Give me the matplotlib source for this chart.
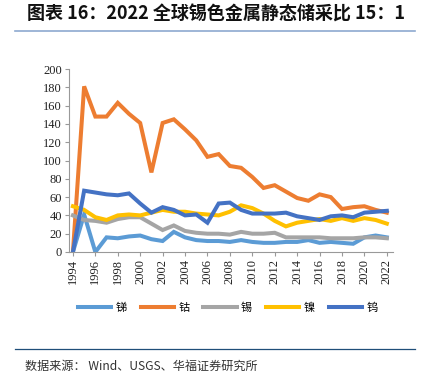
import matplotlib
matplotlib.use('Agg')
import matplotlib.pyplot as plt
from matplotlib.lines import Line2D
from matplotlib import font_manager

plt.rcParams['font.family'] = ['Noto Sans CJK SC', 'DejaVu Sans']
plt.rcParams['font.serif'] = ['Liberation Serif', 'Times New Roman', 'DejaVu Serif']

# --- 数据 ---
years = list(range(1994, 2023))
antimony = [0, 41, 0, 16, 15, 17, 18, 14, 12, 22, 16, 13, 12, 12, 11, 13, 11, 10, 10, 11,
            11, 13, 10, 11, 10, 9, 16, 18, 16]
cobalt = [0, 181, 148, 148, 163, 151, 141, 87, 141, 145, 134, 122, 104, 107, 94, 92, 82,
          70, 73, 66, 59, 56, 63, 60, 47, 49, 50, 46, 43]
tin = [40, 35, 34, 32, 36, 38, 38, 31, 24, 29, 23, 21, 20, 20, 19, 22, 20, 20, 21, 16,
       16, 16, 16, 15, 15, 15, 16, 16, 15]
nickel = [50, 46, 38, 35, 40, 41, 40, 43, 46, 44, 44, 42, 41, 40, 44, 51, 48, 42, 34, 28,
          32, 34, 36, 34, 37, 34, 37, 35, 31]
tungsten = [0, 67, 65, 63, 62, 64, 53, 43, 49, 46, 40, 41, 32, 53, 54, 46, 42, 42, 42, 43,
            39, 37, 35, 39, 40, 38, 43, 44, 45]

series_names = ['锑', '钴', '锡', '镍', '钨']
series_values = [antimony, cobalt, tin, nickel, tungsten]
colors = ['#5B9BD5', '#ED7D31', '#A5A5A5', '#FFC000', '#4472C4']
year_ticks = list(range(1994, 2023, 2))

fig = plt.figure(figsize=(4.23, 3.88), dpi=100)
ax = fig.add_axes([69 / 423, 1 - 252 / 388, (393 - 69) / 423, (252 - 69) / 388])

for name, vals, c in zip(series_names, series_values, colors):
    ax.plot(years, vals, color=c, linewidth=2.9, label=name, solid_joinstyle='miter')

ax.set_xlim(1993.65, 2022.55)
ax.set_ylim(0, 200)
ax.set_yticks(range(0, 201, 20))
ax.set_xticks(year_ticks)

# 刻度标签用衬线字体
serif_fp = font_manager.FontProperties(family='serif', size=9)
ax.set_xticklabels([str(y) for y in year_ticks], rotation=90, fontproperties=serif_fp)
ax.set_yticklabels([str(v) for v in range(0, 201, 20)], fontproperties=serif_fp)

ax.spines['top'].set_visible(False)
ax.spines['right'].set_visible(False)
for s in ['left', 'bottom']:
    ax.spines[s].set_color('#999999')
    ax.spines[s].set_linewidth(0.8)
ax.tick_params(axis='both', color='#999999', length=3, width=0.8, pad=2,
               labelcolor='#222222')

leg = ax.legend(loc='upper center', bbox_to_anchor=(0.49, -0.22), ncol=5, frameon=False,
                handlelength=3.0, columnspacing=1.25, handletextpad=0.4,
                prop={'family': 'Noto Sans CJK SC', 'size': 8})

# 标题与分隔线
fig.text(27 / 423, 1 - 14 / 388, '图表 16：2022 全球锡色金属静态储采比 15：1', fontsize=13,
         fontweight='bold', va='center', ha='left', color='#111111')
fig.add_artist(Line2D([15 / 423, 415 / 423], [1 - 31 / 388, 1 - 31 / 388],
                      color='#8EA9D0', linewidth=1.2))
fig.add_artist(Line2D([15 / 423, 415 / 423], [1 - 349 / 388, 1 - 349 / 388],
                      color='#1F4E79', linewidth=0.9))
fig.text(25 / 423, 1 - 366 / 388, '数据来源： Wind、USGS、华福证券研究所', fontsize=8.7,
         va='center', ha='left', color='#333333')

fig.savefig('out.png', dpi=100)
